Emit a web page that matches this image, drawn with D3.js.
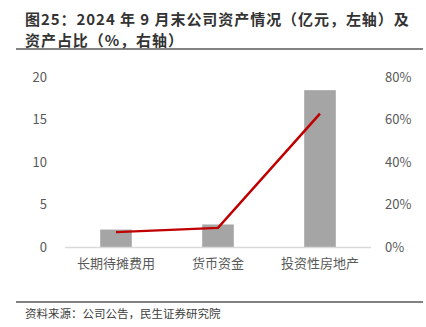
<!DOCTYPE html>
<html>
<head>
<meta charset="utf-8">
<script src="https://cdn.jsdelivr.net/npm/d3@7"></script>
<style>
  body { margin: 0; background: #fff; }
  svg { display: block; font-family: "Noto Sans CJK SC", "Microsoft YaHei", sans-serif; }
</style>
</head>
<body>
<svg id="chart" width="426" height="327"></svg>
<script>
const categories = ['长期待摊费用', '货币资金', '投资性房地产'];
const amounts = [2.05, 2.65, 18.45];      // 亿元, left axis
const shares = [7.0, 9.0, 62.8];          // %, right axis
const leftTicks = [0, 5, 10, 15, 20];
const rightTicks = [0, 20, 40, 60, 80];
const titleLines = ['图25：2024 年 9 月末公司资产情况（亿元，左轴）及', '资产占比（%，右轴）'];

const svg = d3.select('#chart');
const width = 426, height = 327;
const margin = { top: 77, right: 55, bottom: 80, left: 65 };
const plotW = width - margin.left - margin.right;
const plotH = height - margin.top - margin.bottom;

// title (one text block, two lines)
svg.append('text')
  .attr('font-size', 15).attr('letter-spacing', 0.95)
  .attr('font-weight', 'bold').attr('fill', '#333')
  .selectAll('tspan')
  .data(titleLines)
  .enter().append('tspan')
  .attr('x', 25)
  .attr('y', (d, i) => 24.5 + i * 21.8)
  .text(d => d);

svg.append('line')
  .attr('x1', 16).attr('x2', 423).attr('y1', 49).attr('y2', 49)
  .attr('stroke', '#595959').attr('stroke-width', 1.5);

const g = svg.append('g').attr('transform', `translate(${margin.left},${margin.top})`);

const x = d3.scaleBand().domain(categories).range([0, plotW]).paddingInner(0.69).paddingOuter(0.345);
const yL = d3.scaleLinear().domain([0, 20]).range([plotH, 0]);
const yR = d3.scaleLinear().domain([0, 80]).range([plotH, 0]);

// bars
g.selectAll('.bar')
  .data(categories.map((c, i) => ({ c, v: amounts[i] })))
  .enter().append('rect')
  .attr('class', 'bar')
  .attr('x', d => x(d.c))
  .attr('width', x.bandwidth())
  .attr('y', d => yL(d.v))
  .attr('height', d => plotH - yL(d.v))
  .attr('fill', '#a5a5a5');

// baseline
g.append('line')
  .attr('x1', 0).attr('x2', plotW).attr('y1', plotH + 0.5).attr('y2', plotH + 0.5)
  .attr('stroke', '#d9d9d9').attr('stroke-width', 1.5);

// line
const line = d3.line()
  .x((d, i) => x(categories[i]) + x.bandwidth() / 2)
  .y(d => yR(d));
g.append('path')
  .datum(shares)
  .attr('d', line)
  .attr('fill', 'none')
  .attr('stroke', '#c00000')
  .attr('stroke-width', 2.5);

// axes
const leftAxis = g.append('g')
  .call(d3.axisLeft(yL).tickValues(leftTicks).tickSize(0).tickPadding(18));
const rightAxis = g.append('g')
  .attr('transform', `translate(${plotW},0)`)
  .call(d3.axisRight(yR).tickValues(rightTicks).tickSize(0).tickPadding(14).tickFormat(d => d + '%'));
const bottomAxis = g.append('g')
  .attr('transform', `translate(0,${plotH})`)
  .call(d3.axisBottom(x).tickSize(0).tickPadding(12));

[leftAxis, rightAxis, bottomAxis].forEach(a => {
  a.select('.domain').remove();
  a.selectAll('text').attr('font-size', 13).attr('fill', '#595959')
    .attr('font-family', '"Noto Sans CJK SC", sans-serif');
});

// source
svg.append('line')
  .attr('x1', 16).attr('x2', 423).attr('y1', 302).attr('y2', 302)
  .attr('stroke', '#595959').attr('stroke-width', 1.5);
svg.append('text')
  .attr('x', 25).attr('y', 318)
  .attr('font-size', 11.5).attr('fill', '#404040')
  .text('资料来源：公司公告，民生证券研究院');
</script>
</body>
</html>
